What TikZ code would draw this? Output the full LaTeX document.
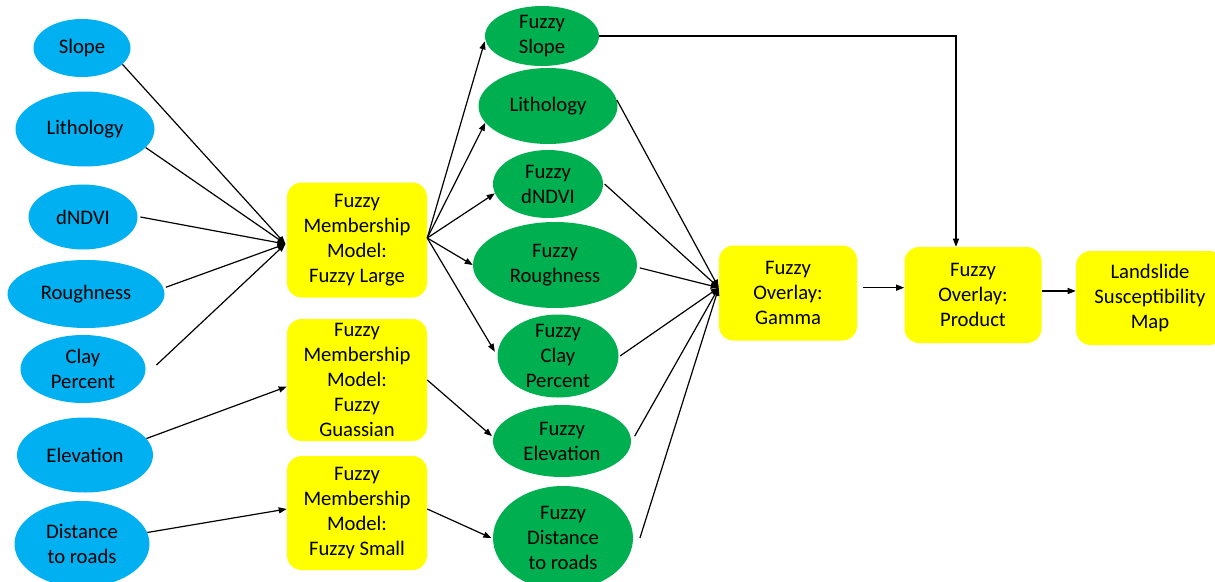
\documentclass[tikz,border=0pt]{standalone}
\usepackage{fontspec}
\setmainfont{Carlito}
\usetikzlibrary{shapes.geometric,arrows.meta}
\definecolor{inblue}{HTML}{00B0F0}
\definecolor{fgreen}{HTML}{00B050}
\definecolor{fyellow}{HTML}{FFFF00}
\begin{document}
\begin{tikzpicture}[x=0.75pt,y=-0.75pt,
  every node/.style={font=\fontsize{15.5}{18.75}\selectfont, text=black},
  lbl/.style={align=center, inner sep=0pt, font=\fontsize{15.5}{18.75}\selectfont},
  sz/.style 2 args={minimum width=#1*0.75pt, minimum height=#2*0.75pt},
  ell/.style={ellipse, draw=none, inner sep=0pt, label={[lbl]center:#1}},
  inp/.style={ell={#1}, fill=inblue},
  fuz/.style={ell={#1}, fill=fgreen},
  box/.style={rectangle, rounded corners=11pt, fill=fyellow, align=center, inner sep=0pt},
  conn/.style={draw=black, line width=0.9pt, -{Triangle[length=6pt,width=4.5pt]}},
  ]
\useasboundingbox (0,0) rectangle (1215,582);

% inputs
\node[inp={Slope}, sz={97}{58}] (b1) at (82,48) {};
\node[inp={Lithology}, sz={139}{75}] (b2) at (85,129) {};
\node[inp={dNDVI}, sz={109}{65}] (b3) at (83,217) {};
\node[inp={Roughness}, sz={157}{68}] (b4) at (86,294) {};
\node[inp={Clay\\Percent}, sz={125}{68}] (b5) at (83,369) {};
\node[inp={Elevation}, sz={136}{75}] (b6) at (85,455) {};
\node[inp={Distance\\to roads}, sz={135}{86}] (b7) at (82,544) {};

% membership models
\node[box, sz={140}{115}] (m1) at (357,240) {Fuzzy\\Membership\\Model:\\Fuzzy Large};
\node[box, sz={140}{122}] (m2) at (357,380) {Fuzzy\\Membership\\Model:\\Fuzzy\\Guassian};
\node[box, sz={140}{114}] (m3) at (357,513) {Fuzzy\\Membership\\Model:\\Fuzzy Small};

% fuzzy layers
\node[fuz={Fuzzy\\Slope}, sz={114}{60}] (g1) at (542,36) {};
\node[fuz={Lithology}, sz={139}{76}] (g2) at (548,106) {};
\node[fuz={Fuzzy\\dNDVI}, sz={110}{68}] (g3) at (548,184) {};
\node[fuz={Fuzzy\\Roughness}, sz={164}{86}] (g4) at (555,265) {};
\node[fuz={Fuzzy\\Clay\\Percent}, sz={121}{83}] (g5) at (558,356) {};
\node[fuz={Fuzzy\\Elevation}, sz={138}{72}] (g6) at (562,441) {};
\node[fuz={Fuzzy\\Distance\\to roads}, sz={140}{104}] (g7) at (563,538) {};

% overlays
\node[box, sz={138}{95}] (r1) at (788,293) {Fuzzy\\Overlay:\\Gamma};
\node[box, sz={137}{96}] (r2) at (973,295) {Fuzzy\\Overlay:\\Product};
\node[box, sz={148}{94}] (r3) at (1150,298) {Landslide\\Susceptibility\\Map};

% connectors: inputs -> models
\coordinate (m1in) at ([xshift=-1pt,yshift=-3pt]m1.west);
\draw[conn] (b1.-22) -- (m1in);
\draw[conn] (b2.-17) -- (m1in);
\draw[conn] ([xshift=2pt]b3.east) -- (m1in);
\draw[conn] ([xshift=2pt]b4.5) -- (m1in);
\draw[conn] ([xshift=8pt,yshift=3pt]b5.east) -- (m1in);
\draw[conn] (b6.15) -- ([yshift=-5pt]m2.west);
\draw[conn] (b7.10) -- ([yshift=3pt]m3.west);

% models -> fuzzy layers
\coordinate (m1out) at ([yshift=1.5pt]m1.east);
\draw[conn] (m1out) -- ([yshift=-4pt]g1.west);
\draw[conn] (m1out) -- (g2.195);
\draw[conn] (m1out) -- (g3.190);
\draw[conn] (m1out) -- (g4.west);
\draw[conn] (m1out) -- ([xshift=-2pt]g5.176);
\draw[conn] (m2.east) -- ([xshift=-1pt]g6.176);
\draw[conn] ([yshift=3pt]m3.east) -- ([xshift=-1pt]g7.west);

% fuzzy layers -> gamma
\coordinate (r1in) at ([yshift=4pt]r1.west);
\draw[conn] (g2.5) -- (r1in);
\draw[conn] ([xshift=1pt]g3.east) -- (r1in);
\draw[conn] ([xshift=2pt]g4.358) -- (r1in);
\draw[conn] ([xshift=1pt]g5.east) -- (r1in);
\draw[conn] ([xshift=3pt]g6.4) -- (r1in);
\draw[conn] ([xshift=5pt]g7.east) -- (r1in);

% slope -> product
\draw[conn] (g1.east) -| ([xshift=-12.75pt]r2.north);

% overlays
\draw[conn] ([xshift=4pt,yshift=4pt]r1.east) -- ([yshift=4pt]r1.east -| r2.west);
\draw[conn] ([yshift=3pt]r2.east) -- ([yshift=3pt]r2.east -| r3.west);
\end{tikzpicture}
\end{document}
